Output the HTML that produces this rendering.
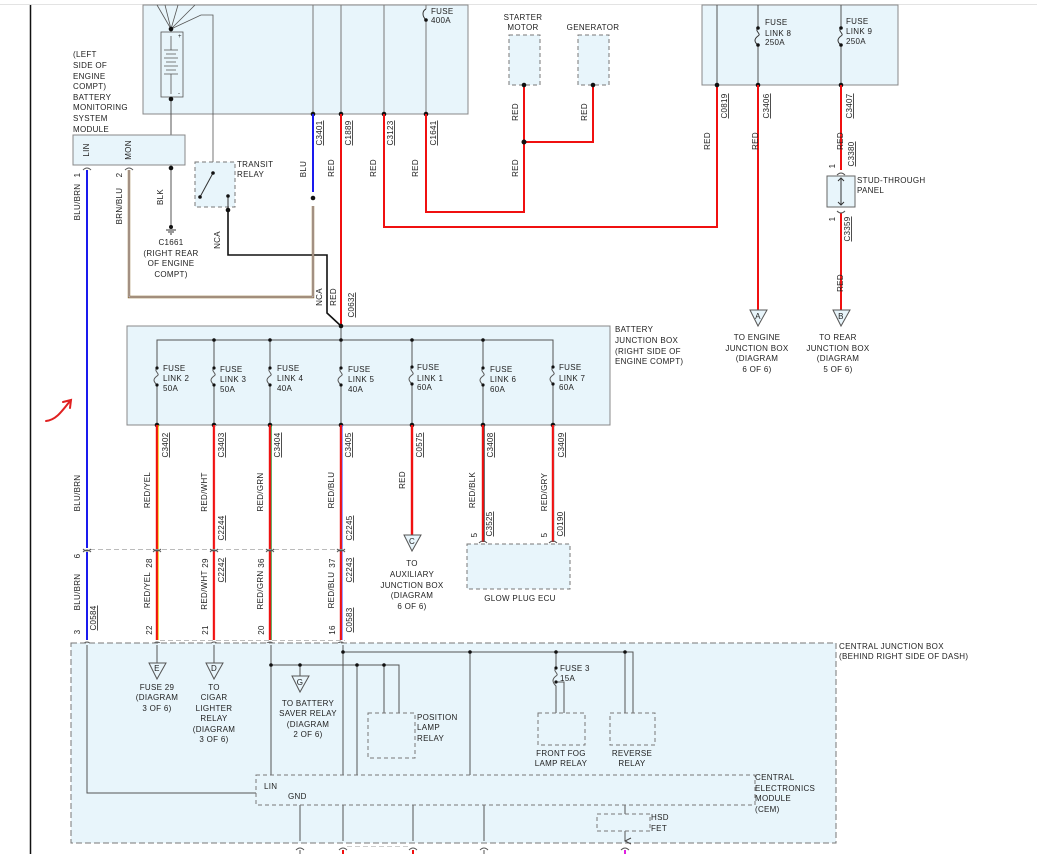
<!DOCTYPE html>
<html><head><meta charset="utf-8"><style>
html,body{margin:0;padding:0;background:#fff}
svg{display:block}
text{font-family:"Liberation Sans",sans-serif;font-size:8px;fill:#222;letter-spacing:0.3px}
.v{text-anchor:middle}
.u{text-decoration:underline}
</style></head><body>
<svg width="1037" height="854" viewBox="0 0 1037 854" xmlns="http://www.w3.org/2000/svg">
<defs>
<marker id="ah" markerWidth="8" markerHeight="8" refX="4" refY="7" orient="auto" markerUnits="userSpaceOnUse"><path d="M1,1 L4,7 L7,1" fill="none" stroke="#444" stroke-width="1"/></marker>
</defs>
<rect width="1037" height="854" fill="#fff"/>
<line x1="0" y1="4.5" x2="1037" y2="4.5" stroke="#e3e3e3" stroke-width="1"/>
<line x1="30.5" y1="5" x2="30.5" y2="854" stroke="#111" stroke-width="1.5"/>

<!-- top battery box -->
<rect x="143" y="5" width="325" height="109" fill="#e8f5fb" stroke="#888" stroke-width="1"/>
<g stroke="#555" stroke-width="0.8" fill="none">
<path d="M157,5 L171,29 M165,5 L171,29 M178,5 L171,29 M195,5 L171,29 M171,29 L201,15 L213,15 L213,162"/>
<line x1="171" y1="29" x2="171" y2="32"/>
<rect x="161" y="32" width="22" height="65" fill="#e8f5fb"/>
<path d="M171,36 V50 M164,50 H178 M166,54 H176 M164,58 H178 M166,62 H176 M164,66 H178 M166,70 H176 M164,74 H178 M171,74 V94"/>
</g>
<text x="178" y="38" style="font-size:6px">+</text><text x="178" y="95" style="font-size:6px">-</text>
<g stroke="#555" stroke-width="1"><line x1="171" y1="97" x2="171" y2="228"/></g>
<g stroke="#777" stroke-width="1"><line x1="313" y1="5" x2="313" y2="114"/><line x1="341" y1="5" x2="341" y2="114"/><line x1="384" y1="5" x2="384" y2="114"/><line x1="426" y1="5" x2="426" y2="9"/><line x1="426" y1="20" x2="426" y2="114"/></g>
<path d="M426,9 c-4,2 -4,7 0,11" fill="none" stroke="#333"/>
<text x="431" y="14">FUSE</text><text x="431" y="23">400A</text>
<g fill="#111"><circle cx="171" cy="29" r="2.3"/><circle cx="171" cy="99" r="2.3"/><circle cx="171" cy="168" r="2.3"/><circle cx="313" cy="114" r="2.3"/><circle cx="341" cy="114" r="2.3"/><circle cx="384" cy="114" r="2.3"/><circle cx="426" cy="114" r="2.3"/><circle cx="426" cy="20" r="1.8"/></g>

<!-- BMS -->
<text x="73" y="57">(LEFT</text><text x="73" y="68">SIDE OF</text><text x="73" y="79">ENGINE</text><text x="73" y="89">COMPT)</text><text x="73" y="100">BATTERY</text><text x="73" y="110">MONITORING</text><text x="73" y="121">SYSTEM</text><text x="73" y="132">MODULE</text>
<rect x="73" y="135" width="112" height="30" fill="#e8f5fb" stroke="#888"/>
<text transform="translate(89,150) rotate(-90)" class="v">LIN</text>
<text transform="translate(131,150) rotate(-90)" class="v">MON</text>
<path d="M83,170 q4,-4 8,0 M125,170 q4,-4 8,0" fill="none" stroke="#555"/>
<!-- ground -->
<g stroke="#333" stroke-width="1"><line x1="166" y1="230" x2="176" y2="230"/><line x1="168" y1="232" x2="174" y2="232"/><line x1="170" y1="234" x2="172" y2="234"/></g>
<circle cx="171" cy="227" r="2" fill="#111"/>
<text x="171" y="245" class="v">C1661</text><text x="171" y="256" class="v">(RIGHT REAR</text><text x="171" y="266" class="v">OF ENGINE</text><text x="171" y="277" class="v">COMPT)</text>
<!-- transit relay -->
<rect x="195" y="162" width="40" height="45" fill="#e8f5fb" stroke="#777" stroke-dasharray="4,3"/>
<path d="M213,173 L200,197 M228,195 V210" stroke="#333" fill="none"/>
<circle cx="213" cy="173" r="1.8" fill="#111"/><circle cx="200" cy="197" r="1.8" fill="#111"/><circle cx="228" cy="196" r="1.8" fill="#111"/><circle cx="228" cy="210" r="2.3" fill="#111"/>
<text x="237" y="167">TRANSIT</text><text x="237" y="177">RELAY</text>
<path d="M228,210 V255 H327 V313 L341,326" stroke="#111" stroke-width="1.6" fill="none"/>

<!-- wires left -->
<line x1="87" y1="170" x2="87" y2="548" stroke="#1a1aee" stroke-width="2"/>
<line x1="87" y1="552" x2="87" y2="640" stroke="#1a1aee" stroke-width="2"/>
<path d="M129,170 V297 H313 V206" stroke="#8a6a2e" stroke-width="2.4" fill="none"/>
<path d="M129,170 V297 H313 V206" stroke="#c9c9ff" stroke-width="0.8" fill="none"/>
<line x1="313" y1="114" x2="313" y2="192" stroke="#1a1aee" stroke-width="2"/>
<circle cx="313" cy="198" r="2.3" fill="#111"/>
<line x1="341" y1="114" x2="341" y2="326" stroke="#f01010" stroke-width="2"/>
<path d="M384,114 V227 H717 V85" stroke="#f01010" stroke-width="2" fill="none"/>
<path d="M426,114 V212 H524 V85 M524,142 H593 V85" stroke="#f01010" stroke-width="2" fill="none"/>
<circle cx="524" cy="142" r="2.5" fill="#111"/>

<!-- starter/generator -->
<text x="523" y="20" class="v">STARTER</text><text x="523" y="30" class="v">MOTOR</text><text x="593" y="30" class="v">GENERATOR</text>
<rect x="509" y="35" width="31" height="50" fill="#e8f5fb" stroke="#777" stroke-dasharray="4,3"/>
<rect x="578" y="35" width="31" height="50" fill="#e8f5fb" stroke="#777" stroke-dasharray="4,3"/>
<circle cx="524" cy="85" r="2.3" fill="#111"/><circle cx="593" cy="85" r="2.3" fill="#111"/>

<!-- right top box -->
<rect x="702" y="5" width="196" height="80" fill="#e8f5fb" stroke="#888"/>
<g stroke="#555"><line x1="717" y1="5" x2="717" y2="85"/><line x1="758" y1="5" x2="758" y2="28"/><line x1="758" y1="45" x2="758" y2="85"/><line x1="841" y1="5" x2="841" y2="28"/><line x1="841" y1="45" x2="841" y2="85"/></g>
<path d="M758,28 c-4,3 4,6 0,8 c-4,3 -4,6 0,9 M841,28 c-4,3 4,6 0,8 c-4,3 -4,6 0,9" fill="none" stroke="#333"/>
<g fill="#111"><circle cx="758" cy="28" r="1.8"/><circle cx="758" cy="45" r="1.8"/><circle cx="841" cy="28" r="1.8"/><circle cx="841" cy="45" r="1.8"/><circle cx="717" cy="85" r="2.3"/><circle cx="758" cy="85" r="2.3"/><circle cx="841" cy="85" r="2.3"/></g>
<text x="765" y="25">FUSE</text><text x="765" y="36">LINK 8</text><text x="765" y="45">250A</text>
<text x="846" y="24">FUSE</text><text x="846" y="34">LINK 9</text><text x="846" y="44">250A</text>
<line x1="758" y1="85" x2="758" y2="312" stroke="#f01010" stroke-width="2"/>
<line x1="841" y1="85" x2="841" y2="170" stroke="#f01010" stroke-width="2"/>
<line x1="841" y1="213" x2="841" y2="312" stroke="#f01010" stroke-width="2"/>
<path d="M837,175 q4,-4 8,0 M837,211 q4,4 8,0" fill="none" stroke="#555"/>
<rect x="827" y="176" width="28" height="31" fill="#e8f5fb" stroke="#666"/>
<path d="M841,178 V205 M838,181 L841,178 L844,181 M838,202 L841,205 L844,202" stroke="#333" fill="none"/>
<text x="857" y="183">STUD-THROUGH</text><text x="857" y="193">PANEL</text>
<path d="M750,310 H767 L758,326 Z M833,310 H850 L841,326 Z" fill="#e8f5fb" stroke="#555"/>
<text x="758" y="319" class="v">A</text><text x="841" y="319" class="v">B</text>
<text x="757" y="340" class="v">TO ENGINE</text><text x="757" y="351" class="v">JUNCTION BOX</text><text x="757" y="361" class="v">(DIAGRAM</text><text x="757" y="372" class="v">6 OF 6)</text>
<text x="838" y="340" class="v">TO REAR</text><text x="838" y="351" class="v">JUNCTION BOX</text><text x="838" y="361" class="v">(DIAGRAM</text><text x="838" y="372" class="v">5 OF 6)</text>

<!-- battery junction box -->
<rect x="127" y="326" width="483" height="99" fill="#e8f5fb" stroke="#888"/>
<text x="615" y="332">BATTERY</text><text x="615" y="343">JUNCTION BOX</text><text x="615" y="354">(RIGHT SIDE OF</text><text x="615" y="364">ENGINE COMPT)</text>
<path d="M157,368 V340 H553 V368 M341,326 V340" stroke="#555" fill="none"/>
<g stroke="#555" fill="none">
<path d="M157,368 c-4,3 4,6 0,8 c-4,3 -4,5 0,9 V425"/><path d="M214,340 V368 c-4,3 4,6 0,8 c-4,3 -4,5 0,9 V425"/><path d="M270,340 V368 c-4,3 4,6 0,8 c-4,3 -4,5 0,9 V425"/><path d="M341,340 V368 c-4,3 4,6 0,8 c-4,3 -4,5 0,9 V425"/><path d="M412,340 V367 c-4,3 4,6 0,8 c-4,3 -4,5 0,9 V425"/><path d="M483,340 V368 c-4,3 4,6 0,8 c-4,3 -4,5 0,9 V425"/><path d="M553,340 V367 c-4,3 4,6 0,8 c-4,3 -4,5 0,9 V425"/>
</g>
<g fill="#111">
<circle cx="214" cy="340" r="1.8"/><circle cx="270" cy="340" r="1.8"/><circle cx="341" cy="340" r="1.8"/><circle cx="412" cy="340" r="1.8"/><circle cx="483" cy="340" r="1.8"/><circle cx="341" cy="326" r="2.3"/>
<circle cx="157" cy="368" r="1.6"/><circle cx="157" cy="385" r="1.6"/><circle cx="214" cy="368" r="1.6"/><circle cx="214" cy="385" r="1.6"/><circle cx="270" cy="368" r="1.6"/><circle cx="270" cy="385" r="1.6"/><circle cx="341" cy="368" r="1.6"/><circle cx="341" cy="385" r="1.6"/><circle cx="412" cy="367" r="1.6"/><circle cx="412" cy="384" r="1.6"/><circle cx="483" cy="368" r="1.6"/><circle cx="483" cy="385" r="1.6"/><circle cx="553" cy="367" r="1.6"/><circle cx="553" cy="384" r="1.6"/>
<circle cx="157" cy="425" r="2.3"/><circle cx="214" cy="425" r="2.3"/><circle cx="270" cy="425" r="2.3"/><circle cx="341" cy="425" r="2.3"/><circle cx="412" cy="425" r="2.3"/><circle cx="483" cy="425" r="2.3"/><circle cx="553" cy="425" r="2.3"/>
</g>
<text x="163" y="371">FUSE</text><text x="163" y="381">LINK 2</text><text x="163" y="391">50A</text>
<text x="220" y="372">FUSE</text><text x="220" y="382">LINK 3</text><text x="220" y="392">50A</text>
<text x="277" y="371">FUSE</text><text x="277" y="381">LINK 4</text><text x="277" y="391">40A</text>
<text x="348" y="372">FUSE</text><text x="348" y="382">LINK 5</text><text x="348" y="392">40A</text>
<text x="417" y="370">FUSE</text><text x="417" y="381">LINK 1</text><text x="417" y="390">60A</text>
<text x="490" y="372">FUSE</text><text x="490" y="382">LINK 6</text><text x="490" y="392">60A</text>
<text x="559" y="370">FUSE</text><text x="559" y="381">LINK 7</text><text x="559" y="390">60A</text>

<!-- lower wires -->
<g stroke-width="2.4" fill="none">
<path d="M157,425 V640" stroke="#f01010"/><path d="M214,425 V640" stroke="#f01010"/><path d="M270,425 V640" stroke="#f01010"/><path d="M341,425 V640" stroke="#f01010"/>
<path d="M412,425 V535" stroke="#f01010"/><path d="M483,425 V542" stroke="#f01010"/><path d="M553,425 V542" stroke="#f01010"/>
</g>
<g stroke-width="0.8"><line x1="158.3" y1="425" x2="158.3" y2="640" stroke="#f5c000"/><line x1="215.3" y1="425" x2="215.3" y2="640" stroke="#ffe0e0"/><line x1="271.3" y1="425" x2="271.3" y2="640" stroke="#2a8a2a"/><line x1="342.3" y1="425" x2="342.3" y2="640" stroke="#7070ff"/><line x1="484.3" y1="425" x2="484.3" y2="542" stroke="#333"/><line x1="554.3" y1="425" x2="554.3" y2="542" stroke="#ccc"/></g>
<line x1="90" y1="549.5" x2="345" y2="549.5" stroke="#bbb" stroke-dasharray="5,3"/>
<line x1="160" y1="640.5" x2="345" y2="640.5" stroke="#bbb" stroke-dasharray="5,3"/>
<g fill="none" stroke="#555">
<path d="M83,549 q4,4 8,0 M83,552 q4,-4 8,0 M153,549 q4,4 8,0 M153,552 q4,-4 8,0 M210,549 q4,4 8,0 M210,552 q4,-4 8,0 M266,549 q4,4 8,0 M266,552 q4,-4 8,0 M337,549 q4,4 8,0 M337,552 q4,-4 8,0"/>
<path d="M479,543 q4,-4 8,0 M549,543 q4,-4 8,0"/>
<path d="M83,644 q4,-4 8,0 M153,644 q4,-4 8,0 M210,644 q4,-4 8,0 M266,644 q4,-4 8,0 M337,644 q4,-4 8,0"/>
</g>
<path d="M404,535 H421 L412,551 Z" fill="#e8f5fb" stroke="#555"/><text x="412" y="544" class="v">C</text>
<text x="412" y="566" class="v">TO</text><text x="412" y="577" class="v">AUXILIARY</text><text x="412" y="588" class="v">JUNCTION BOX</text><text x="412" y="598" class="v">(DIAGRAM</text><text x="412" y="609" class="v">6 OF 6)</text>
<rect x="467" y="544" width="103" height="45" fill="#e8f5fb" stroke="#777" stroke-dasharray="4,3"/>
<text x="520" y="601" class="v">GLOW PLUG ECU</text>

<!-- vertical labels -->
<g>
<text transform="translate(80,175) rotate(-90)" class="v">1</text>
<text transform="translate(122,175) rotate(-90)" class="v">2</text>
<text transform="translate(80,202) rotate(-90)" class="v">BLU/BRN</text>
<text transform="translate(122,206) rotate(-90)" class="v">BRN/BLU</text>
<text transform="translate(163,197) rotate(-90)" class="v">BLK</text>
<text transform="translate(220,240) rotate(-90)" class="v">NCA</text>
<text transform="translate(306,169) rotate(-90)" class="v">BLU</text>
<text transform="translate(334,168) rotate(-90)" class="v">RED</text>
<text transform="translate(376,168) rotate(-90)" class="v">RED</text>
<text transform="translate(418,168) rotate(-90)" class="v">RED</text>
<text transform="translate(322,133) rotate(-90)" class="v u">C3401</text>
<text transform="translate(351,133) rotate(-90)" class="v u">C1889</text>
<text transform="translate(393,133) rotate(-90)" class="v u">C3123</text>
<text transform="translate(436,133) rotate(-90)" class="v u">C1641</text>
<text transform="translate(322,297) rotate(-90)" class="v">NCA</text>
<text transform="translate(336,297) rotate(-90)" class="v">RED</text>
<text transform="translate(354,305) rotate(-90)" class="v u">C0632</text>
<text transform="translate(518,112) rotate(-90)" class="v">RED</text>
<text transform="translate(518,168) rotate(-90)" class="v">RED</text>
<text transform="translate(587,112) rotate(-90)" class="v">RED</text>
<text transform="translate(710,141) rotate(-90)" class="v">RED</text>
<text transform="translate(727,106) rotate(-90)" class="v u">C0819</text>
<text transform="translate(758,141) rotate(-90)" class="v">RED</text>
<text transform="translate(769,106) rotate(-90)" class="v u">C3406</text>
<text transform="translate(843,141) rotate(-90)" class="v">RED</text>
<text transform="translate(852,106) rotate(-90)" class="v u">C3407</text>
<text transform="translate(854,154) rotate(-90)" class="v u">C3380</text>
<text transform="translate(835,166) rotate(-90)" class="v">1</text>
<text transform="translate(835,219) rotate(-90)" class="v">1</text>
<text transform="translate(850,229) rotate(-90)" class="v u">C3359</text>
<text transform="translate(843,283) rotate(-90)" class="v">RED</text>
<text transform="translate(168,445) rotate(-90)" class="v u">C3402</text>
<text transform="translate(224,445) rotate(-90)" class="v u">C3403</text>
<text transform="translate(280,445) rotate(-90)" class="v u">C3404</text>
<text transform="translate(351,445) rotate(-90)" class="v u">C3405</text>
<text transform="translate(422,445) rotate(-90)" class="v u">C0575</text>
<text transform="translate(493,445) rotate(-90)" class="v u">C3408</text>
<text transform="translate(564,445) rotate(-90)" class="v u">C3409</text>
<text transform="translate(150,490) rotate(-90)" class="v">RED/YEL</text>
<text transform="translate(207,492) rotate(-90)" class="v">RED/WHT</text>
<text transform="translate(263,492) rotate(-90)" class="v">RED/GRN</text>
<text transform="translate(334,490) rotate(-90)" class="v">RED/BLU</text>
<text transform="translate(405,480) rotate(-90)" class="v">RED</text>
<text transform="translate(475,490) rotate(-90)" class="v">RED/BLK</text>
<text transform="translate(547,492) rotate(-90)" class="v">RED/GRY</text>
<text transform="translate(80,493) rotate(-90)" class="v">BLU/BRN</text>
<text transform="translate(224,528) rotate(-90)" class="v u">C2244</text>
<text transform="translate(352,528) rotate(-90)" class="v u">C2245</text>
<text transform="translate(492,524) rotate(-90)" class="v u">C3525</text>
<text transform="translate(563,524) rotate(-90)" class="v u">C0190</text>
<text transform="translate(477,535) rotate(-90)" class="v">5</text>
<text transform="translate(547,535) rotate(-90)" class="v">5</text>
<text transform="translate(80,556) rotate(-90)" class="v">6</text>
<text transform="translate(152,563) rotate(-90)" class="v">28</text>
<text transform="translate(208,563) rotate(-90)" class="v">29</text>
<text transform="translate(264,563) rotate(-90)" class="v">36</text>
<text transform="translate(335,563) rotate(-90)" class="v">37</text>
<text transform="translate(224,570) rotate(-90)" class="v u">C2242</text>
<text transform="translate(352,570) rotate(-90)" class="v u">C2243</text>
<text transform="translate(80,592) rotate(-90)" class="v">BLU/BRN</text>
<text transform="translate(150,590) rotate(-90)" class="v">RED/YEL</text>
<text transform="translate(207,590) rotate(-90)" class="v">RED/WHT</text>
<text transform="translate(263,590) rotate(-90)" class="v">RED/GRN</text>
<text transform="translate(334,590) rotate(-90)" class="v">RED/BLU</text>
<text transform="translate(96,618) rotate(-90)" class="v u">C0584</text>
<text transform="translate(352,620) rotate(-90)" class="v u">C0583</text>
<text transform="translate(80,632) rotate(-90)" class="v">3</text>
<text transform="translate(152,630) rotate(-90)" class="v">22</text>
<text transform="translate(208,630) rotate(-90)" class="v">21</text>
<text transform="translate(264,630) rotate(-90)" class="v">20</text>
<text transform="translate(335,630) rotate(-90)" class="v">16</text>
</g>

<!-- red mark -->
<path d="M46,421 C55,420 60,414 70,401 M63,402 L71,400 L70,408" stroke="#e02020" stroke-width="2" fill="none" stroke-linecap="round"/>

<!-- central junction box -->
<rect x="71" y="643" width="765" height="200" fill="#e8f5fb" stroke="#777" stroke-dasharray="6,3"/>
<text x="839" y="649">CENTRAL JUNCTION BOX</text><text x="839" y="659">(BEHIND RIGHT SIDE OF DASH)</text>
<g stroke="#555" fill="none">
<path d="M87,645 V793 H256"/>
<path d="M157,645 V663 M214,645 V663"/>
<path d="M343,645 V775 M343,652 H633 V713 M625,652 V713 M470,652 V775 M556,652 V668 c-4,3 4,6 0,8 c-4,3 -4,6 0,10 V713 M556,682 H564 V713"/>
<path d="M271,645 V775 M271,665 H399 V713 M384,665 V713 M357,665 V775 M300,665 V676"/>
<path d="M300,805 V841 M343,805 V841 M413,805 V841 M484,805 V841 M625,805 V814 M625,831 V841" marker-end="url(#ah)"/>
</g>
<g fill="#111"><circle cx="343" cy="652" r="1.8"/><circle cx="470" cy="652" r="1.8"/><circle cx="556" cy="652" r="1.8"/><circle cx="625" cy="652" r="1.8"/><circle cx="271" cy="665" r="1.8"/><circle cx="300" cy="665" r="1.8"/><circle cx="357" cy="665" r="1.8"/><circle cx="384" cy="665" r="1.8"/><circle cx="556" cy="668" r="1.6"/><circle cx="556" cy="682" r="1.6"/></g>
<path d="M149,663 H166 L157,679 Z M206,663 H223 L214,679 Z M292,676 H309 L300,692 Z" fill="#e8f5fb" stroke="#555"/>
<text x="157" y="671" class="v">E</text><text x="214" y="671" class="v">D</text><text x="300" y="685" class="v">G</text>
<text x="157" y="690" class="v">FUSE 29</text><text x="157" y="700" class="v">(DIAGRAM</text><text x="157" y="711" class="v">3 OF 6)</text>
<text x="214" y="690" class="v">TO</text><text x="214" y="700" class="v">CIGAR</text><text x="214" y="711" class="v">LIGHTER</text><text x="214" y="721" class="v">RELAY</text><text x="214" y="732" class="v">(DIAGRAM</text><text x="214" y="742" class="v">3 OF 6)</text>
<text x="308" y="706" class="v">TO BATTERY</text><text x="308" y="716" class="v">SAVER RELAY</text><text x="308" y="727" class="v">(DIAGRAM</text><text x="308" y="737" class="v">2 OF 6)</text>
<rect x="368" y="713" width="47" height="45" fill="#e8f5fb" stroke="#777" stroke-dasharray="4,3"/>
<text x="417" y="720">POSITION</text><text x="417" y="730">LAMP</text><text x="417" y="741">RELAY</text>
<text x="560" y="671">FUSE 3</text><text x="560" y="681">15A</text>
<rect x="538" y="713" width="47" height="32" fill="#e8f5fb" stroke="#777" stroke-dasharray="4,3"/>
<rect x="610" y="713" width="45" height="32" fill="#e8f5fb" stroke="#777" stroke-dasharray="4,3"/>
<text x="561" y="756" class="v">FRONT FOG</text><text x="561" y="766" class="v">LAMP RELAY</text>
<text x="632" y="756" class="v">REVERSE</text><text x="632" y="766" class="v">RELAY</text>
<rect x="256" y="775" width="499" height="30" fill="#e8f5fb" stroke="#777" stroke-dasharray="4,3"/>
<text x="264" y="789">LIN</text><text x="288" y="799">GND</text>
<text x="755" y="780">CENTRAL</text><text x="755" y="791">ELECTRONICS</text><text x="755" y="801">MODULE</text><text x="755" y="812">(CEM)</text>
<rect x="597" y="814" width="53" height="17" fill="#e8f5fb" stroke="#777" stroke-dasharray="4,3"/>
<text x="651" y="820">HSD</text><text x="651" y="831">FET</text>
<!-- bottom cut-off connectors -->
<g stroke="#555" fill="none"><path d="M296,850 q4,-4 8,0 M339,850 q4,-4 8,0 M409,850 q4,-4 8,0 M480,850 q4,-4 8,0 M621,850 q4,-4 8,0"/></g>
<line x1="300" y1="850" x2="300" y2="854" stroke="#555"/><line x1="343" y1="850" x2="343" y2="854" stroke="#f01010" stroke-width="2"/><line x1="413" y1="850" x2="413" y2="854" stroke="#f01010" stroke-width="2"/><line x1="484" y1="850" x2="484" y2="854" stroke="#555"/><line x1="625" y1="850" x2="625" y2="854" stroke="#e020e0" stroke-width="2"/>
<line x1="347" y1="846.5" x2="410" y2="846.5" stroke="#ccc" stroke-dasharray="5,3"/>
</svg>
</body></html>
